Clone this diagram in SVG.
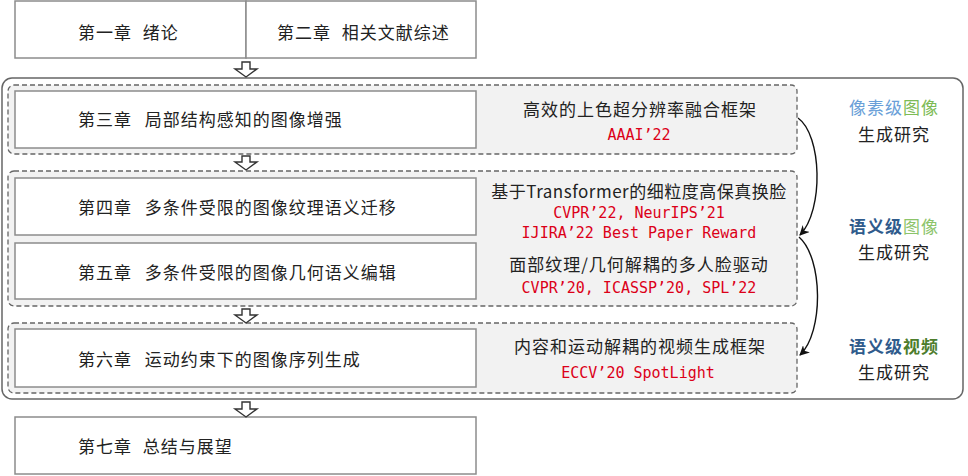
<svg xmlns="http://www.w3.org/2000/svg" width="968" height="476" viewBox="0 0 968 476">
<defs>
<style>
.box{fill:#fff;stroke:#8c8c8c;stroke-width:1.5}
.grp{fill:#f2f2f2;stroke:#666;stroke-width:1.3;stroke-dasharray:5 3}
.outer{fill:#fff;stroke:#666;stroke-width:1.5}
.cn{font-family:"Noto Sans CJK SC","Noto Sans",sans-serif;font-size:17px;fill:#222;letter-spacing:1px}
.en{font-family:"DejaVu Sans Mono","Liberation Mono","Noto Sans CJK SC",monospace;font-size:15px;fill:#dc0018}
.mid{text-anchor:middle}
.harrow{fill:#fff;stroke:#333;stroke-width:1.4;stroke-linejoin:miter}
.curve{fill:none;stroke:#111;stroke-width:1.4}
</style>
<marker id="ah" viewBox="0 0 10 10" refX="9" refY="5" markerWidth="10" markerHeight="10" markerUnits="userSpaceOnUse" orient="auto">
<path d="M0,0 L10,5 L0,10 L3,5 Z" fill="#111"/>
</marker>
</defs>
<rect width="968" height="476" fill="#fff"/>

<g id="ch1"><rect class="box" x="15" y="1" width="231" height="57"/><text class="cn" x="78" y="39">第一章<tspan dx="6"> 绪论</tspan></text></g>
<g id="ch2"><rect class="box" x="246" y="1" width="230" height="57"/><text class="cn" x="277" y="39">第二章<tspan dx="6"> 相关文献综述</tspan></text></g>

<g id="outer"><rect class="outer" x="2" y="78" width="961" height="321" rx="10"/></g>

<g id="group1"><rect class="grp" x="8" y="85" width="789" height="69" rx="6"/>
<text class="cn mid" x="640" y="116">高效的上色超分辨率融合框架</text>
<text class="en mid" x="639" y="140">AAAI’22</text></g>
<g id="ch3"><rect class="box" x="15" y="91" width="461" height="57"/><text class="cn" x="78" y="126">第三章<tspan dx="8"> 局部结构感知的图像增强</tspan></text></g>

<g id="group2"><rect class="grp" x="8" y="171" width="789" height="135" rx="6"/>
<text class="cn mid" x="639" y="198" style="letter-spacing:0.5px">基于Transformer的细粒度高保真换脸</text>
<text class="en mid" x="639" y="218">CVPR’22, NeurIPS’21</text>
<text class="en mid" x="639" y="238">IJIRA’22 Best Paper Reward</text>
<text class="cn mid" x="639" y="271">面部纹理/几何解耦的多人脸驱动</text>
<text class="en mid" x="639" y="293">CVPR’20, ICASSP’20, SPL’22</text></g>
<g id="ch4"><rect class="box" x="15" y="178" width="461" height="57"/><text class="cn" x="78" y="214">第四章<tspan dx="8"> 多条件受限的图像纹理语义迁移</tspan></text></g>
<g id="ch5"><rect class="box" x="15" y="243" width="461" height="56"/><text class="cn" x="78" y="279">第五章<tspan dx="8"> 多条件受限的图像几何语义编辑</tspan></text></g>

<g id="group3"><rect class="grp" x="8" y="323" width="789" height="70" rx="6"/>
<text class="cn mid" x="640" y="353">内容和运动解耦的视频生成框架</text>
<text class="en mid" x="638" y="378">ECCV’20 SpotLight</text></g>
<g id="ch6"><rect class="box" x="15" y="329" width="461" height="58"/><text class="cn" x="78" y="366">第六章<tspan dx="8"> 运动约束下的图像序列生成</tspan></text></g>

<g id="ch7"><rect class="box" x="15" y="417" width="461" height="57"/><text class="cn" x="78" y="453">第七章<tspan dx="6"> 总结与展望</tspan></text></g>

<g id="label1"><text class="cn mid" x="894" y="114"><tspan fill="#6a9fd8">像素级</tspan><tspan fill="#7dbb55">图像</tspan></text><text class="cn mid" x="894" y="141">生成研究</text></g>
<g id="label2"><text class="cn mid" x="894" y="233" font-weight="bold"><tspan fill="#2f5b8c">语义级</tspan><tspan fill="#8cc46a" font-weight="normal">图像</tspan></text><text class="cn mid" x="894" y="259">生成研究</text></g>
<g id="label3"><text class="cn mid" x="894" y="353" font-weight="bold"><tspan fill="#2f5b8c">语义级</tspan><tspan fill="#4d7d2c">视频</tspan></text><text class="cn mid" x="894" y="379">生成研究</text></g>

<g id="connectors">
<polygon class="harrow" points="242,62 250,62 250,69 257,69 246,77 235,69 242,69"/>
<polygon class="harrow" points="242,156 250,156 250,162 257,162 246,170 235,162 242,162"/>
<polygon class="harrow" points="242,309 250,309 250,315 257,315 246,323 235,315 242,315"/>
<polygon class="harrow" points="242,402 250,402 250,409 257,409 246,417 235,409 242,409"/>
<path class="curve" d="M798,118 C822,135 824,210 800,235" marker-end="url(#ah)"/>
<path class="curve" d="M799,237 C823,258 824,332 800,355" marker-end="url(#ah)"/>
</g>
</svg>
